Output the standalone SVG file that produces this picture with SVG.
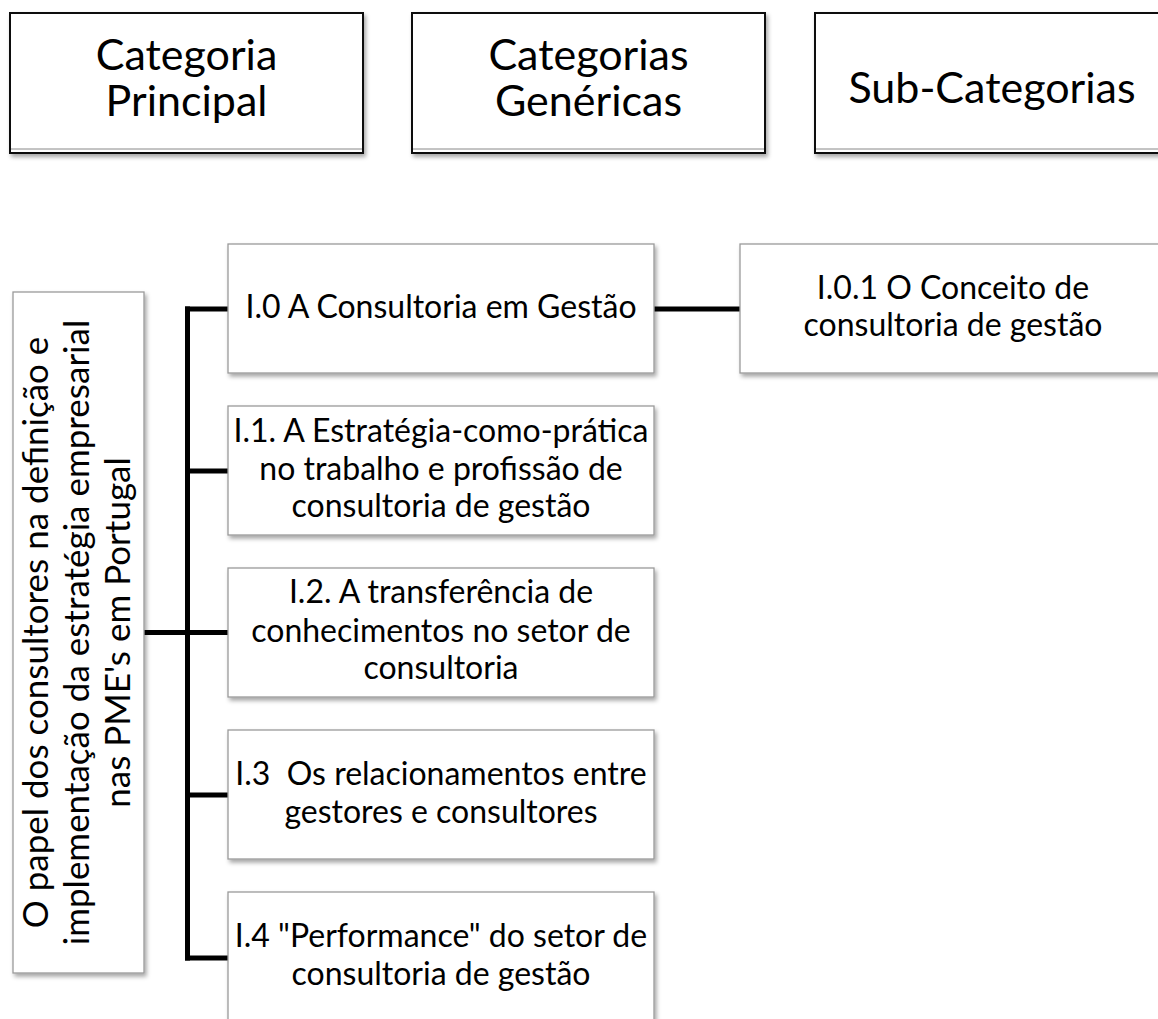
<svg xmlns="http://www.w3.org/2000/svg" width="1158" height="1019" viewBox="0 0 1158 1019">
  <defs>
    <filter id="sh" x="-10%" y="-10%" width="130%" height="130%">
      <feDropShadow dx="2" dy="3" stdDeviation="2" flood-color="#000" flood-opacity="0.35"/>
    </filter>
    <style>
      .hdr { fill: #fff; stroke: #111; stroke-width: 2; }
      .hdrline { stroke: #888; stroke-width: 1; }
      .box { fill: #fff; stroke: #9a9a9a; stroke-width: 1.3; }
      .conn { stroke: #000; stroke-width: 5; fill: none; }
      text { font-family: Lato, "Open Sans", "Liberation Sans", sans-serif; fill: #000; text-anchor: middle; }
      .th { font-size: 43px; }
      .tc { font-size: 32px; }
      .tm { font-size: 35px; }
    </style>
  </defs>

  <!-- Header boxes -->
  <g id="hdr-principal">
    <rect class="hdr" x="10" y="13" width="353" height="140" filter="url(#sh)"/>
    <line class="hdrline" x1="11" y1="149" x2="362" y2="149"/>
    <text class="th" x="186.5" y="70">Categoria</text>
    <text class="th" x="186.5" y="116">Principal</text>
  </g>
  <g id="hdr-genericas">
    <rect class="hdr" x="412" y="13" width="353" height="140" filter="url(#sh)"/>
    <line class="hdrline" x1="413" y1="149" x2="764" y2="149"/>
    <text class="th" x="588.5" y="70">Categorias</text>
    <text class="th" x="588.5" y="116">Genéricas</text>
  </g>
  <g id="hdr-sub">
    <rect class="hdr" x="815" y="13" width="354" height="140" filter="url(#sh)"/>
    <line class="hdrline" x1="816" y1="149" x2="1168" y2="149"/>
    <text class="th" x="992" y="103">Sub-Categorias</text>
  </g>

  <!-- Connectors -->
  <g id="connectors">
    <line class="conn" x1="187.5" y1="306.5" x2="187.5" y2="960.5"/>
    <line class="conn" x1="144" y1="632.5" x2="228" y2="632.5"/>
    <line class="conn" x1="185" y1="309" x2="228" y2="309"/>
    <line class="conn" x1="185" y1="471" x2="228" y2="471"/>
    <line class="conn" x1="185" y1="795" x2="228" y2="795"/>
    <line class="conn" x1="185" y1="958" x2="228" y2="958"/>
    <line class="conn" x1="654" y1="309" x2="740" y2="309"/>
  </g>

  <!-- Main category -->
  <g id="main">
    <rect class="box" x="13" y="292" width="131" height="681" filter="url(#sh)"/>
    <text class="tm" transform="translate(48,632.5) rotate(-90)">O papel dos consultores na definição e</text>
    <text class="tm" transform="translate(89,632.5) rotate(-90)">implementação da estratégia empresarial</text>
    <text class="tm" transform="translate(130,632.5) rotate(-90)">nas PME's em Portugal</text>
  </g>

  <!-- Generic categories -->
  <g id="i0">
    <rect class="box" x="228" y="244" width="426" height="129" filter="url(#sh)"/>
    <text class="tc" x="441" y="318">I.0 A Consultoria em Gestão</text>
  </g>
  <g id="i1">
    <rect class="box" x="228" y="406" width="426" height="129" filter="url(#sh)"/>
    <text class="tc" x="441" y="442">I.1. A Estratégia-como-prática</text>
    <text class="tc" x="441" y="480">no trabalho e profissão de</text>
    <text class="tc" x="441" y="517">consultoria de gestão</text>
  </g>
  <g id="i2">
    <rect class="box" x="228" y="568" width="426" height="129" filter="url(#sh)"/>
    <text class="tc" x="441" y="603">I.2. A transferência de</text>
    <text class="tc" x="441" y="642">conhecimentos no setor de</text>
    <text class="tc" x="441" y="679">consultoria</text>
  </g>
  <g id="i3">
    <rect class="box" x="228" y="730" width="426" height="129" filter="url(#sh)"/>
    <text class="tc" x="441" y="785" xml:space="preserve">I.3  Os relacionamentos entre</text>
    <text class="tc" x="441" y="823">gestores e consultores</text>
  </g>
  <g id="i4">
    <rect class="box" x="228" y="892" width="426" height="129" filter="url(#sh)"/>
    <text class="tc" x="441" y="947">I.4 "Performance" do setor de</text>
    <text class="tc" x="441" y="985">consultoria de gestão</text>
  </g>

  <!-- Sub-category -->
  <g id="i01">
    <rect class="box" x="740" y="244" width="426" height="129" filter="url(#sh)"/>
    <text class="tc" x="953" y="299">I.0.1 O Conceito de</text>
    <text class="tc" x="953" y="336">consultoria de gestão</text>
  </g>
</svg>
